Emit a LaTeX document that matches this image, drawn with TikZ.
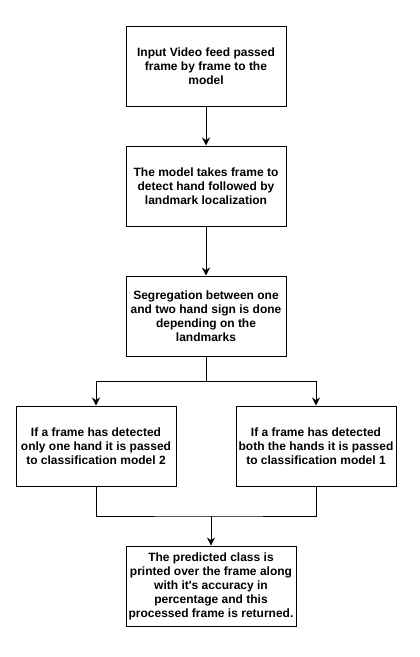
\documentclass[tikz,border=0pt]{standalone}
\usepackage{fontspec}
\setmainfont{Liberation Sans}
\usetikzlibrary{arrows.meta}
\tikzset{
  flowbox/.style={draw, line width=0.75pt, rectangle, minimum width=120pt, minimum height=60pt,
    inner sep=0pt, align=center, font=\fontsize{9}{10.5}\selectfont\bfseries},
  flowline/.style={line width=0.75pt},
  flowarrow/.style={line width=0.75pt, -{Stealth[length=6pt,width=6pt]}}
}
\begin{document}
\begin{tikzpicture}[x=0.75pt,y=-0.75pt]
\useasboundingbox (0,0) rectangle (419,657);
\node[flowbox] (input) at (206,66) {Input Video feed passed\\frame by frame to the\\model};
\node[flowbox] (detect) at (206,186) {The model takes frame to\\detect hand followed by\\landmark localization};
\node[flowbox] (segregate) at (206,316) {Segregation between one\\and two hand sign is done\\depending on the\\landmarks};
\node[flowbox] (onehand) at (96,446) {If a frame has detected\\only one hand it is passed\\to classification model 2};
\node[flowbox] (twohand) at (316,446) {If a frame has detected\\both the hands it is passed\\to classification model 1};
\node[flowbox, minimum width=127.5pt] (result) at (211,586) {The predicted class is\\printed over the frame along\\with it\textquotesingle s accuracy in\\percentage and this\\processed frame is returned.};
\coordinate (split) at (206,381);
\coordinate (join) at (211,516);
\draw[flowarrow] (input) -- (detect);
\draw[flowarrow] (detect) -- (segregate);
\draw[flowline] (segregate) -- (split);
\draw[flowarrow] (split) -| (onehand);
\draw[flowarrow] (split) -| (twohand);
\draw[flowline] (onehand.south) |- (join) -| (twohand.south);
\draw[flowarrow] (join) -- (result);
\end{tikzpicture}
\end{document}
